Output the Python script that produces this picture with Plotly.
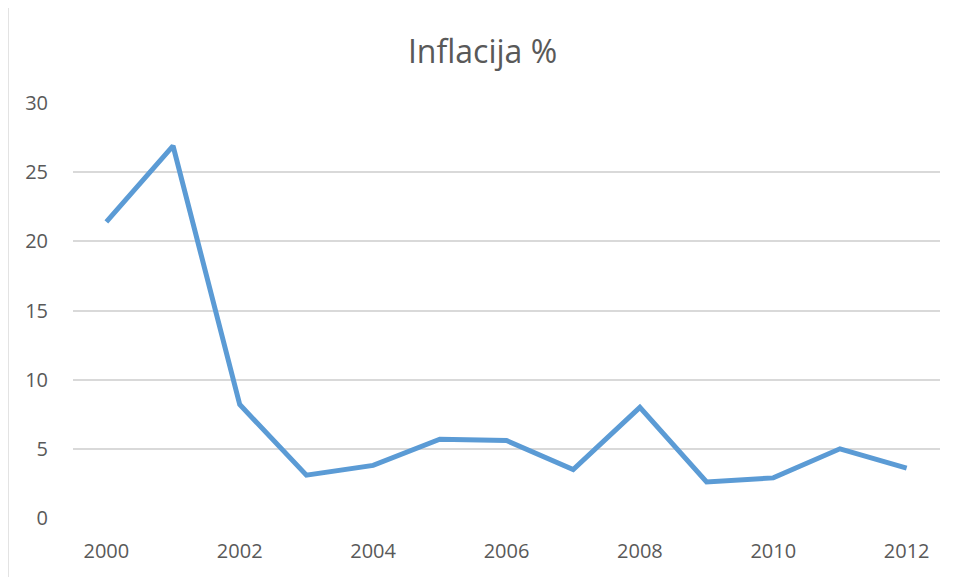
import plotly.graph_objects as go

# Inflation (%) per year
years = [2000, 2001, 2002, 2003, 2004, 2005, 2006, 2007, 2008, 2009, 2010, 2011, 2012]
inflation = [21.4, 26.9, 8.2, 3.1, 3.8, 5.7, 5.6, 3.5, 8.0, 2.6, 2.9, 5.0, 3.6]

title_text = "Inflacija %"
y_ticks = [0, 5, 10, 15, 20, 25, 30]
x_ticks = [2000, 2002, 2004, 2006, 2008, 2010, 2012]

fig = go.Figure()
fig.add_trace(go.Scatter(
    x=years, y=inflation, mode="lines",
    line=dict(color="#5B9BD5", width=5, shape="linear"),
    hoverinfo="x+y",
))

# chart frame (partly off-page, like the cropped screenshot)
fig.add_shape(type="rect", xref="paper", yref="paper",
              x0=-0.075, x1=1.017, y0=-0.3, y1=1.238,
              line=dict(color="#D9D9D9", width=1.5), fillcolor="rgba(0,0,0,0)", layer="below")

# page body has an 8px margin, so the figure is 8px smaller each way
fig.update_layout(
    width=949, height=569,
    margin=dict(l=65, r=17, t=95, b=59),
    paper_bgcolor="white", plot_bgcolor="white",
    showlegend=False,
    font=dict(family="Open Sans", color="#595959"),
    title=dict(text=title_text, x=0.5, xanchor="center", y=0.923, yanchor="middle",
               font=dict(size=32, color="#595959", family="Open Sans")),
)
fig.update_xaxes(
    range=[1999.5, 2012.5], tickvals=x_ticks, showgrid=False, zeroline=False,
    showline=False, ticks="outside", ticklen=15, tickcolor="rgba(0,0,0,0)",
    tickfont=dict(size=20, color="#595959"),
)
fig.update_yaxes(
    range=[0, 30], tickvals=y_ticks, showgrid=True, gridcolor="#D9D9D9", gridwidth=1.5,
    zeroline=False, showline=False, ticks="outside", ticklen=20, tickcolor="rgba(0,0,0,0)",
    tickfont=dict(size=20, color="#595959"),
)

fig.write_html("out.html")
